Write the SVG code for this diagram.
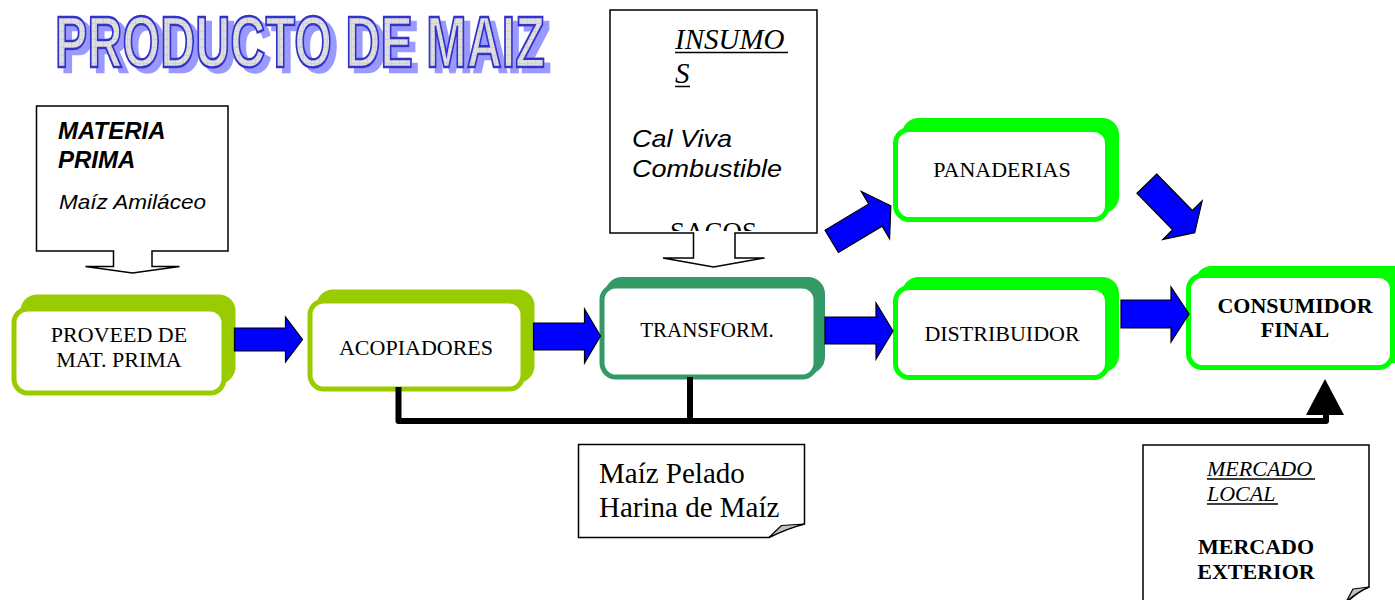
<svg xmlns="http://www.w3.org/2000/svg" width="1395" height="600" viewBox="0 0 1395 600">
<defs>
<style>
.t{font-family:"Liberation Serif","Times New Roman",serif;fill:#000}
.a{font-family:"Liberation Sans",Arial,sans-serif;fill:#000}
.box{fill:#fff;stroke-width:5}
.note{fill:#fff;stroke:#000;stroke-width:1.5}
.ul{stroke:#000;stroke-width:1.5}
.fold{fill:#c0c0c0;stroke:#000;stroke-width:1.2;stroke-linejoin:round}
.blue{fill:#0000ff;stroke:#000;stroke-width:1.2}
.link{fill:none;stroke:#000;stroke-width:6;stroke-linejoin:round}
</style>
<pattern id="grid" width="8" height="8" patternUnits="userSpaceOnUse"><rect width="8" height="8" fill="#dedede"/><path d="M8 0V8H0" fill="none" stroke="#bdbdbd" stroke-width="0.8"/></pattern>
<filter id="shadow" x="-5%" y="-20%" width="115%" height="150%">
<feFlood flood-color="#9999ff" result="c"/>
<feComposite in="c" in2="SourceAlpha" operator="in" result="s"/>
<feOffset in="s" dx="6" dy="5" result="o"/>
<feMerge><feMergeNode in="o"/><feMergeNode in="SourceGraphic"/></feMerge>
</filter>
<clipPath id="insClip"><rect x="611" y="11" width="205" height="220"/></clipPath>
</defs>
<rect width="1395" height="600" fill="#fff"/>

<g id="title" font-family="'Liberation Sans Narrow','Liberation Sans',Arial,sans-serif" font-weight="bold" font-size="72">
<text x="55" y="67" textLength="490" lengthAdjust="spacingAndGlyphs" fill="url(#grid)" stroke="#3333cc" stroke-width="2.5" filter="url(#shadow)">PRODUCTO DE MAIZ</text>
</g>

<g id="materia-prima">
<path class="note" d="M36.5,106 H228 V251 H152 V266.5 H179.5 L132.5,273 L85.5,266.5 H113.5 V251 H36.5 Z"/>
<text class="a" x="58" y="139" font-size="24" font-weight="bold" font-style="italic">MATERIA</text>
<text class="a" x="58" y="168" font-size="24" font-weight="bold" font-style="italic">PRIMA</text>
<text class="a" x="59" y="209" font-size="21" font-style="italic" textLength="147" lengthAdjust="spacingAndGlyphs">Maíz Amiláceo</text>
</g>

<g id="insumos">
<path class="note" d="M610,10 H817 V233 H735 V258 H764.5 L713.5,267 L663,258 H693.5 V233 H610 Z"/>
<text class="t" font-size="29" font-style="italic"><tspan x="675" y="49">INSUMO</tspan><tspan x="675" y="83">S</tspan></text>
<line class="ul" x1="675" y1="52.5" x2="788" y2="52.5"/>
<line class="ul" x1="675" y1="86.5" x2="690" y2="86.5"/>
<text class="a" x="632" y="147" font-size="24" font-style="italic" textLength="100" lengthAdjust="spacingAndGlyphs">Cal Viva</text>
<text class="a" x="632" y="177" font-size="24" font-style="italic" textLength="150" lengthAdjust="spacingAndGlyphs">Combustible</text>
<text class="t" x="670" y="241" font-size="27" clip-path="url(#insClip)">SACOS</text>
</g>

<g id="proveed">
<rect x="23" y="297" width="210" height="84" rx="14" fill="#99cc00" stroke="#99cc00" stroke-width="5"/>
<rect class="box" x="14" y="309" width="210" height="84" rx="14" stroke="#99cc00"/>
<text class="t" x="119" y="342" font-size="22" text-anchor="middle">PROVEED DE</text>
<text class="t" x="119" y="367" font-size="22" text-anchor="middle">MAT. PRIMA</text>
</g>

<g id="acopiadores">
<rect x="319" y="292" width="213" height="88" rx="14" fill="#99cc00" stroke="#99cc00" stroke-width="5"/>
<rect class="box" x="310" y="301" width="213" height="88" rx="14" stroke="#99cc00"/>
<text class="t" x="416" y="355" font-size="22" text-anchor="middle">ACOPIADORES</text>
</g>

<g id="transform">
<rect x="608" y="280" width="214" height="91" rx="14" fill="#339966" stroke="#339966" stroke-width="6"/>
<rect class="box" x="602" y="286" width="214" height="91" rx="14" stroke="#339966" stroke-width="6"/>
<text class="t" x="707" y="337" font-size="21" text-anchor="middle">TRANSFORM.</text>
</g>

<g id="panaderias">
<rect x="904.5" y="120.5" width="212" height="90" rx="14" fill="#00ff00" stroke="#00ff00" stroke-width="5"/>
<rect class="box" x="895.5" y="129.5" width="212" height="90" rx="14" stroke="#00ff00"/>
<text class="t" x="1002" y="177" font-size="22" text-anchor="middle">PANADERIAS</text>
</g>

<g id="distribuidor">
<rect x="904.5" y="279.5" width="212" height="90" rx="14" fill="#00ff00" stroke="#00ff00" stroke-width="5"/>
<rect class="box" x="895.5" y="287.5" width="212" height="90" rx="14" stroke="#00ff00"/>
<text class="t" x="1002" y="341" font-size="22" text-anchor="middle">DISTRIBUIDOR</text>
</g>

<g id="consumidor">
<rect x="1197.5" y="268.5" width="220" height="92" rx="14" fill="#00ff00" stroke="#00ff00" stroke-width="5"/>
<rect class="box" x="1188.5" y="275.5" width="204" height="92" rx="14" stroke="#00ff00"/>
<text class="t" x="1295" y="313" font-size="22" font-weight="bold" text-anchor="middle">CONSUMIDOR</text>
<text class="t" x="1295" y="337" font-size="22" font-weight="bold" text-anchor="middle">FINAL</text>
</g>

<g id="productos">
<path class="note" d="M578.5,444.5 H804.5 V524 Q788,528 769,537.5 H578.5 Z"/>
<path class="fold" d="M769,537.5 L781.5,525.5 L804.5,524 Q788,528 769,537.5 Z"/>
<text class="t" x="599" y="483" font-size="29">Maíz Pelado</text>
<text class="t" x="599" y="517" font-size="29">Harina de Maíz</text>
</g>

<g id="mercado">
<path class="note" d="M1143,445 H1369 V587 Q1357,592 1346,603 H1143 Z"/>
<path class="fold" d="M1346,602 L1353,589 L1369,587 Q1357,592 1346,602 Z"/>
<text class="t" x="1207" y="476" font-size="22" font-style="italic">MERCADO</text>
<line class="ul" x1="1207" y1="479" x2="1315" y2="479" stroke-width="1.2"/>
<text class="t" x="1207" y="501" font-size="22" font-style="italic">LOCAL</text>
<line class="ul" x1="1207" y1="504" x2="1278" y2="504" stroke-width="1.2"/>
<text class="t" x="1256" y="554" font-size="22" font-weight="bold" text-anchor="middle">MERCADO</text>
<text class="t" x="1256" y="579" font-size="22" font-weight="bold" text-anchor="middle">EXTERIOR</text>
</g>

<g id="connectors">
<polygon class="blue" points="234.5,328 285.5,328 285.5,317 302.5,339.5 285.5,362 285.5,351 234.5,351"/>
<polygon class="blue" points="533.5,323 584.5,323 584.5,309 600.5,336 584.5,363 584.5,350 533.5,350"/>
<polygon class="blue" points="825,317 876,317 876,303 893,331 876,359 876,344 825,344"/>
<polygon class="blue" points="1121,300 1171,300 1171,287 1189,314 1171,342 1171,328 1121,328"/>
<polygon class="blue" transform="translate(831.7,241.3) rotate(-31)" points="0,-13 51,-13 51,-27.5 69,0 51,27.5 51,13 0,13"/>
<polygon class="blue" transform="translate(1146.8,183.7) rotate(45.6)" points="0,-13.8 51,-13.8 51,-27.5 68.5,0 51,27.5 51,13.8 0,13.8"/>
<path class="link" d="M398.5,387 V421 H1326 V412"/>
<path class="link" d="M690,377 V421"/>
<polygon points="1306,415 1344,415 1325,379" fill="#000"/>
</g>
</svg>
